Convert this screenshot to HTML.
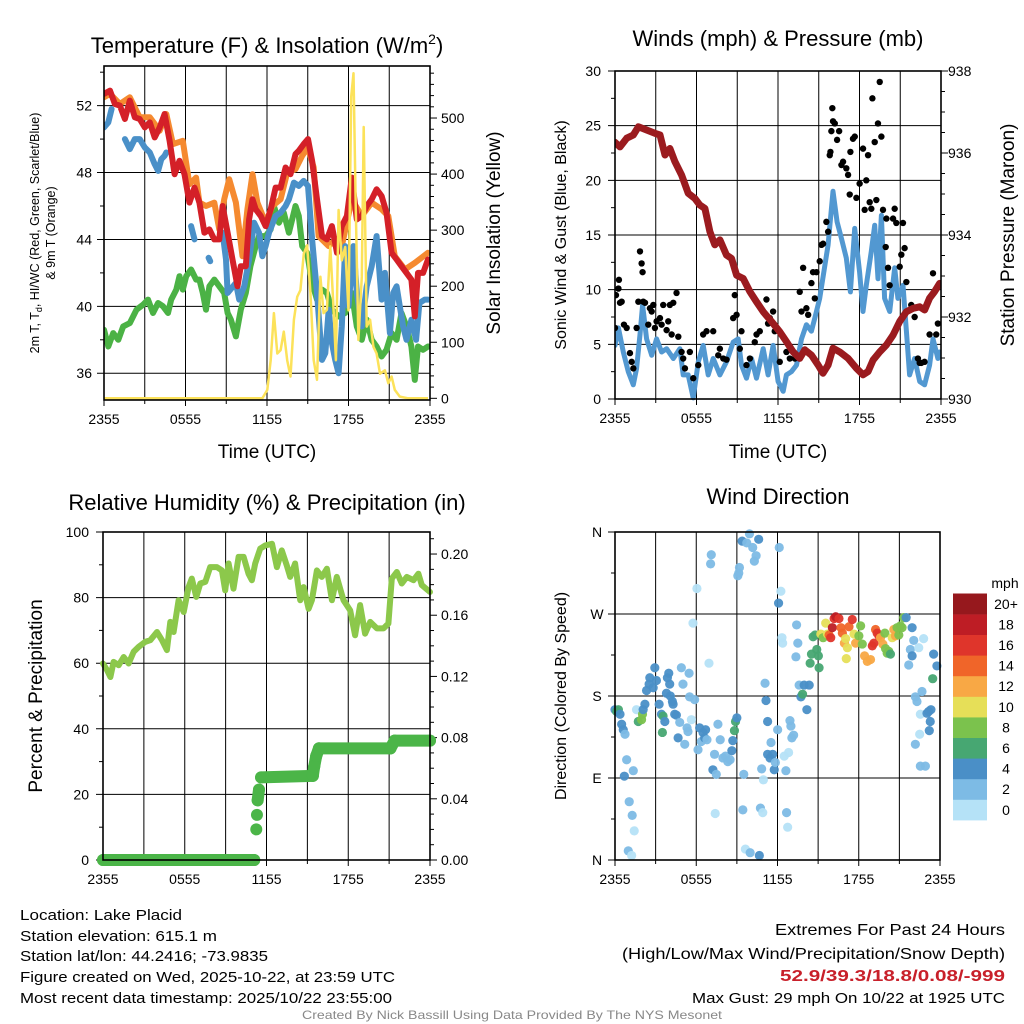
<!DOCTYPE html>
<html><head><meta charset="utf-8"><title>Lake Placid Meteogram</title>
<style>
html,body{margin:0;padding:0;background:#fff;}
svg{display:block;font-family:"Liberation Sans",Arial,sans-serif;}
</style></head>
<body>
<svg id="fig" width="1024" height="1024" viewBox="0 0 1024 1024" xmlns="http://www.w3.org/2000/svg"></svg>
<script>
// ---------------- DATA ----------------
const tRedH=[0,0.44,0.8,1.17,1.54,1.9,2.27,2.63,3.0,3.37,3.73,4.1,4.46,4.83,5.2,5.56,5.93,6.29,6.66,7.02,7.39,7.76,8.12,8.49,8.73,9.1,9.46,9.83,10.07,10.44,10.68,10.93,11.17,11.54,11.9,12.27,12.63,13.0,13.37,13.73,14.1,14.34,14.7,15.02,15.32,15.68,16.05,16.41,16.78,17.15,17.51,17.88,18.24,18.61,18.98,19.34,19.71,20.07,20.44,20.8,21.17,21.54,21.9,22.27,22.63,22.88,23.12,23.49,23.85];
const tRedV=[52.7,52.9,52.1,52.0,51.2,52.3,51.3,51.2,50.7,51.0,50.1,50.7,51.5,49.9,47.9,48.7,47.9,46.2,47.1,46.2,44.4,44.6,44.0,44.0,46.0,44.4,42.8,41.2,42.4,42.4,45.2,46.4,45.8,45.4,44.8,45.8,47.1,47.1,48.3,47.9,49.1,49.3,49.7,50.0,48.7,46.4,44.2,44.0,44.8,43.2,44.8,45.4,47.7,45.2,45.4,46.0,46.4,47.0,46.6,45.6,43.2,42.8,42.4,42.0,41.6,39.4,42.0,42.0,42.8];
const tOrgH=[0,0.44,1.17,1.9,2.63,3.37,4.1,4.59,5.07,5.8,6.29,6.78,7.02,7.51,8.12,8.49,8.85,9.22,9.71,10.2,10.56,10.93,11.29,11.9,12.39,13.0,13.49,14.1,14.59,15.02,15.44,15.8,16.54,17.02,17.51,18.24,18.98,19.71,20.44,20.93,21.41,22.15,22.88,23.85];
const tOrgV=[52.5,52.7,52.1,52.5,51.3,51.3,50.5,51.5,49.7,49.9,47.3,47.7,46.2,46.0,46.2,44.6,46.4,47.6,46.2,43.0,45.8,47.9,46.2,45.0,46.0,46.4,48.0,48.2,49.0,49.5,48.3,44.2,43.6,44.0,43.6,46.4,45.4,46.2,45.8,45.4,43.0,42.2,42.6,43.2];
const tBluH=[0,0.32,0.56,null,1.54,1.9,2.27,2.63,3.0,3.37,3.73,3.98,4.22,4.46,4.59,null,6.41,6.66,null,7.7,7.82,null,8.73,8.98,9.1,9.71,9.95,10.32,10.68,11.05,11.41,11.66,11.9,12.15,12.63,13.0,13.37,13.61,13.98,14.34,14.7,15.02,15.32,15.68,16.05,16.29,16.54,16.78,17.02,17.27,17.51,17.76,18.0,18.37,18.61,18.98,19.34,19.71,20.07,20.44,20.68,21.05,21.29,21.54,21.78,22.02,22.27,22.63,22.98,23.22,23.61,23.85];
const tBluV=[50.7,51.0,51.8,null,50.0,49.4,50.0,50.0,49.5,49.2,48.5,48.1,48.8,49.0,49.2,null,44.8,44.0,null,42.9,42.7,null,44.4,42.8,40.8,41.4,40.4,41.2,42.8,45.0,44.4,43.0,43.6,44.4,45.4,45.6,46.0,46.4,47.4,47.2,47.5,47.2,44.0,40.8,36.8,37.2,39.8,37.8,36.8,36.0,38.8,43.6,40.0,43.6,40.8,38.8,41.2,42.4,44.2,40.4,42.0,38.4,40.8,41.2,40.0,38.8,38.0,39.2,38.0,40.2,40.4,40.4];
const tGrnH=[0,0.32,0.68,1.05,1.41,1.9,2.39,2.88,3.24,3.61,3.98,4.34,4.71,4.95,5.32,5.56,5.8,6.05,6.41,6.78,7.02,7.27,7.51,7.76,8.12,8.49,8.85,9.1,9.34,9.71,10.07,10.44,10.78,11.17,11.41,11.9,12.27,12.51,12.88,13.24,13.61,14.1,14.34,14.59,14.95,15.32,15.68,16.05,16.41,16.78,17.27,17.76,18.24,18.61,18.98,19.34,19.71,20.07,20.44,20.8,21.17,21.54,21.9,22.27,22.63,22.88,23.12,23.49,23.85];
const tGrnV=[38.6,37.6,38.4,38.0,38.8,39.0,39.8,40.1,40.4,39.6,40.2,40.0,39.6,40.4,41.0,41.8,41.0,41.8,42.2,41.6,41.6,40.8,39.8,41.2,41.6,41.2,40.8,39.6,39.2,38.2,39.8,40.8,42.4,43.6,44.2,44.2,44.6,46.0,45.0,45.6,44.4,46.0,45.4,43.6,43.2,41.4,40.4,41.0,40.8,39.8,39.4,39.6,40.8,38.8,38.0,39.2,38.0,37.6,37.0,37.4,38.4,38.0,39.6,38.8,37.6,35.6,37.6,37.4,37.6];
const solH=[0,11.66,12.02,12.27,12.51,12.76,13.0,13.24,13.49,13.73,13.98,14.22,14.46,14.71,14.95,15.2,15.44,15.68,15.93,16.17,16.41,16.66,16.9,17.07,17.27,17.51,17.76,18.0,18.2,18.37,18.54,18.73,18.98,19.12,19.34,19.59,19.83,20.07,20.32,20.68,20.93,21.17,21.41,21.78,22.39,23.85];
const solV=[0,0,15,68,152,80,86,119,68,39,140,181,193,258,273,187,68,33,217,152,158,271,158,68,336,246,270,157,538,580,336,104,217,484,128,140,92,80,44,50,27,39,15,3,0,0];
const wndH=[0,0.25,0.61,0.98,1.35,1.59,1.84,2.03,2.33,2.7,3.06,3.43,3.8,4.29,4.78,5.02,5.39,5.76,6.13,6.49,6.86,7.23,7.72,8.21,8.7,9.07,9.31,9.68,10.05,10.42,10.91,11.27,11.64,12.01,12.38,12.62,12.99,13.36,13.73,14.09,14.46,14.71,15.07,15.37,15.69,16.05,16.35,16.67,17.03,17.33,17.65,18.01,18.26,18.5,18.87,19.12,19.36,19.61,19.85,20.22,20.59,20.83,21.2,21.45,21.69,22.06,22.43,22.79,23.16,23.41,23.77,23.9];
const wndV=[4.9,6.5,4.3,2.5,1.3,2.8,5.9,8.6,5.5,4.0,5.5,4.3,4.6,3.7,4.6,2.2,2.2,0.1,3.4,4.9,2.2,3.7,2.2,3.4,5.2,5.5,3.1,1.9,3.7,1.9,4.6,2.2,4.9,1.6,0.7,2.2,2.5,3.1,5.5,6.8,6.2,7.4,9.2,11.6,14.1,19.0,16.2,14.7,12.9,9.8,15.6,11.6,8.0,10.4,13.5,15.9,11.0,16.8,9.2,8.0,12.0,9.2,10.4,6.2,2.2,3.7,1.6,1.3,3.1,5.5,3.7,4.3];
const gstH=[0,0.07,0.25,0.29,0.37,0.49,0.66,0.86,1.1,1.23,1.35,1.59,1.72,1.84,1.96,2.03,2.08,2.21,2.45,2.57,2.7,2.82,2.94,3.06,3.31,3.43,3.55,3.8,3.92,4.04,4.17,4.29,4.53,4.66,4.9,5.02,5.15,5.51,5.76,6.13,6.49,6.74,7.23,7.6,7.72,7.97,8.21,8.7,8.82,8.95,9.19,9.31,9.68,9.93,10.29,10.42,10.66,11.15,11.27,11.4,11.64,11.76,12.13,12.62,12.87,13.24,13.6,13.73,13.85,14.09,14.22,14.46,14.58,14.71,14.83,15.07,15.2,15.32,15.56,15.69,15.81,15.86,15.93,16.0,16.05,16.18,16.35,16.5,16.67,16.79,17.03,17.16,17.28,17.33,17.52,17.65,17.77,18.01,18.26,18.38,18.5,18.63,18.75,18.87,18.95,19.12,19.24,19.36,19.49,19.61,19.73,19.93,19.98,20.1,20.22,20.47,20.59,20.71,20.96,21.08,21.2,21.32,21.45,21.81,22.06,22.3,22.43,22.55,22.79,23.16,23.41,23.65,23.77];
const gstV=[6.5,9.5,10.1,10.9,8.8,8.9,6.8,6.5,4.2,3.4,2.8,6.5,8.9,13.5,12.4,11.6,8.9,8.8,6.8,8.3,8.0,8.6,6.5,7.1,7.4,6.8,8.6,6.3,7.1,8.6,5.9,8.8,9.7,5.7,4.3,3.7,2.8,4.3,1.9,3.1,5.9,6.2,6.2,4.0,4.6,3.7,3.6,7.4,9.5,7.7,4.6,6.2,3.1,3.7,5.2,5.9,6.2,9.1,6.9,7.4,8.0,6.2,3.4,4.3,3.7,3.7,9.8,8.0,12.0,8.3,7.7,10.6,11.6,9.2,11.6,12.6,14.1,14.2,16.2,15.3,22.3,22.6,24.5,26.6,25.4,25.2,23.7,24.5,21.4,21.7,21.1,20.5,18.7,22.6,23.8,24.0,18.4,19.7,22.9,17.3,20.0,22.3,18.0,17.4,27.5,23.5,18.2,25.2,29.0,24.0,17.3,13.9,16.5,12.0,10.4,16.5,17.4,16.1,12.1,13.2,16.1,13.8,10.7,8.6,7.5,3.7,3.3,3.3,3.4,5.9,11.5,5.9,6.9];
const presH=[0,0.37,0.86,1.35,1.72,2.33,2.94,3.31,3.68,4.04,4.41,4.9,5.39,5.88,6.25,6.62,6.99,7.35,7.72,8.21,8.58,8.95,9.44,9.93,10.42,10.91,11.52,12.13,12.62,13.11,13.6,13.97,14.46,14.95,15.31,15.69,16.05,16.54,17.16,17.77,18.26,18.63,19.0,19.49,19.98,20.47,20.96,21.45,21.94,22.43,22.79,23.16,23.53,23.9];
const presV=[936.26,936.15,936.36,936.44,936.64,936.56,936.48,936.44,935.95,936.11,935.79,935.46,935.02,934.89,934.73,934.65,934.08,933.76,933.88,933.51,933.43,933.02,932.94,932.62,932.37,932.13,931.89,931.64,931.4,931.15,930.99,931.2,931.07,930.83,930.63,930.83,931.24,931.15,930.99,930.75,930.59,930.67,930.95,931.15,931.32,931.56,931.89,932.13,932.21,932.25,932.17,932.46,932.62,932.82];
const rhH=[0,0.29,0.54,0.78,1.15,1.52,1.88,2.25,2.62,3.1,3.47,3.96,4.33,4.69,4.94,5.18,5.55,5.92,6.28,6.52,6.85,7.14,7.51,7.87,8.36,8.73,8.97,9.22,9.58,9.95,10.32,10.68,10.93,11.17,11.54,11.91,12.4,12.76,13.12,13.49,13.74,14.1,14.47,14.72,15.09,15.33,15.7,16.06,16.43,16.8,17.16,17.65,18.14,18.5,18.87,19.24,19.61,20.1,20.59,20.95,21.2,21.56,21.93,22.3,22.79,23.15,23.4,24.0];
const rhV=[59.9,57.9,55.8,60.4,59.4,61.9,59.9,63.5,65.0,66.5,67.0,69.5,67.0,64.0,72.6,69.5,79.2,75.6,83.2,85.8,80.2,84.3,84.8,89.3,89.3,88.3,82.2,90.4,82.7,92.4,92.4,87.3,85.3,90.4,94.9,95.9,96.4,89.3,94.4,89.8,86.3,90.4,79.2,83.2,76.6,79.2,88.3,86.3,88.8,79.2,86.3,79.2,76.1,68.5,77.7,69.0,72.6,70.6,70.6,72.1,85.8,87.8,84.3,86.3,85.3,87.3,83.8,81.7];
const prcH=[0,11.1,11.25,11.3,11.35,11.45,11.6,15.4,15.5,15.65,15.85,21.1,21.4,24];
const prcV=[0,0,0.02,0.0295,0.039,0.046,0.054,0.055,0.061,0.068,0.073,0.073,0.078,0.078];
const dirH=[0,0.12,0.25,0.37,0.49,0.61,0.74,0.86,0.69,1.35,1.05,1.27,1.42,0.98,1.23,1.59,1.72,1.96,2.03,2.08,2.21,2.33,2.52,2.57,2.82,2.94,3.06,3.26,3.43,3.55,3.68,3.5,3.8,3.87,3.97,4.04,4.09,4.24,4.29,4.41,4.53,4.78,4.9,5.02,4.66,5.15,5.32,5.39,5.47,5.51,5.64,5.76,5.88,6.05,6.13,6.25,6.37,6.5,6.62,6.69,6.79,6.94,7.11,7.06,7.23,7.35,7.48,7.4,7.6,7.77,7.97,8.16,8.33,8.5,8.63,8.7,8.82,8.9,9.0,9.07,9.14,9.19,9.39,9.73,9.93,10.17,10.29,10.42,10.61,9.51,9.44,9.63,9.98,10.66,10.74,10.91,10.83,10.96,11.08,11.15,11.27,11.27,11.45,11.52,11.64,11.76,11.84,12.01,12.08,12.13,12.25,12.33,12.38,12.5,12.62,12.67,12.75,12.82,12.92,12.99,13.06,13.19,13.36,13.41,13.5,13.6,13.73,13.85,13.97,14.17,14.34,14.41,14.51,14.63,14.78,14.9,15.02,15.07,15.2,15.37,15.56,15.69,15.81,15.93,16.05,16.18,16.3,16.54,16.69,16.79,16.94,17.03,17.16,17.08,17.28,17.52,17.65,17.77,18.01,18.14,18.26,18.43,18.63,18.87,19.0,19.12,19.24,19.36,19.49,19.61,19.78,19.93,19.98,20.1,20.22,20.34,20.47,20.59,20.71,20.83,20.96,21.08,21.2,21.32,21.5,21.69,21.81,21.94,21.94,22.06,22.18,22.3,22.43,22.55,22.67,22.79,23.04,23.16,23.28,23.21,23.33,23.46,23.53,23.77,22.18,22.5,22.55,22.92];
const dirV=[165,163,165,160,149,143,138,110,92,98,64,49,32,10,5,165,152,154,160,165,171,186,193,200,189,211,197,171,160,158,152,140,183,200,205,193,180,174,171,160,159,151,211,193,134,127,145,141,205,179,154,260,176,298,121,145,130,140,134,143,132,216,335,325,99,116,94,51,149,132,112,114,108,110,120,131,142,152,156,312,315,321,350,348,358,343,328,334,352,94,55,12,8,5,57,52,100,88,194,175,152,116,112,129,116,99,107,143,282,343,295,244,238,114,98,52,36,118,153,147,134,137,223,258,238,192,179,182,192,165,192,216,226,245,247,231,224,211,248,244,260,248,247,244,255,265,267,265,255,249,238,243,233,221,256,264,248,238,246,257,237,224,218,220,235,238,253,249,246,244,237,249,232,227,229,226,244,253,246,255,247,257,255,266,266,214,231,255,224,241,179,174,233,160,185,243,161,163,152,142,165,199,226,213,127,138,103,103];
const dirS=[4,6,6,4,4,4,3,3,4,3,3,3,1,3,1,1,6,8,8,5,4,4,4,4,4,4,4,4,5,6,4,6,4,4,4,4,4,4,4,4,4,3,3,3,4,3,3,3,3,3,1,1,3,1,3,4,3,4,4,4,3,1,3,3,4,3,3,1,3,3,3,3,3,3,4,4,6,6,4,3,3,3,4,3,3,3,3,3,4,3,3,1,3,4,3,1,3,1,3,4,4,4,4,3,4,4,3,3,4,3,1,1,1,1,3,3,1,1,3,3,3,3,3,3,3,3,4,6,4,4,4,6,6,6,6,6,6,6,10,8,10,10,14,16,18,16,18,16,14,14,12,10,10,10,14,16,10,12,8,8,8,12,12,12,16,16,14,16,16,12,12,8,8,8,8,6,10,12,12,8,8,8,8,8,4,3,3,4,4,3,3,3,1,1,3,1,4,4,4,4,4,6,4,4,3,1,3,3];
const cbLabels=["0","2","4","6","8","10","12","14","16","18","20+"];
const cbColors=["#b5e2f7","#7dbbe5","#4a8fc7","#47a772","#7bc24d","#e6df58","#f8a845","#f06529","#df352b","#be1d25","#96181d"];
const timeTicks=["2355","0555","1155","1755","2355"];

// ---------------- HELPERS ----------------
const svg=document.getElementById('fig');
const NS='http://www.w3.org/2000/svg';
function mk(tag,attrs,parent){const e=document.createElementNS(NS,tag);for(const k in attrs)e.setAttribute(k,attrs[k]);(parent||svg).appendChild(e);return e;}
function txt(s,x,y,size,anchor,parent,extra){const e=mk('text',Object.assign({x:x,y:y,'font-size':size,'text-anchor':anchor||'middle',fill:'#000'},extra||{}),parent);e.textContent=s;return e;}
function lin(d0,d1,r0,r1){return v=>r0+(v-d0)/(d1-d0)*(r1-r0);}
function pathFrom(xs,ys,sx,sy){let d='',pen=false;for(let i=0;i<xs.length;i++){if(xs[i]===null||ys[i]===null){pen=false;continue;}d+=(pen?'L':'M')+sx(xs[i]).toFixed(1)+','+sy(ys[i]).toFixed(1);pen=true;}return d;}

function frame(P,g){
  for(let h=0;h<=24;h+=3){const x=P.sx(h);const l=mk('line',{x1:x,y1:P.y0,x2:x,y2:P.y1,stroke:'#000','stroke-width':1},g);}
  timeTicks.forEach((t,i)=>{const x=P.sx(i*6);mk('line',{x1:x,y1:P.y1,x2:x,y2:P.y1+6,stroke:'#000'},g);const e=txt(t,x,P.y1+24,14,'middle',g);});
  for(let h=3;h<24;h+=6){const x=P.sx(h);mk('line',{x1:x,y1:P.y1,x2:x,y2:P.y1+4,stroke:'#000'},g);}
}
function box(P,g){const r=mk('rect',{x:P.x0,y:P.y0,width:P.x1-P.x0,height:P.y1-P.y0,fill:'none',stroke:'#000','stroke-width':1.6},g);}

// ---------------- PANEL 1 ----------------
(function(){
  const g=mk('g',{});
  const P={x0:104,x1:430,y0:66,y1:400};P.sx=lin(0,24,P.x0,P.x1);
  const sy=lin(34.4,54.37,P.y1,P.y0);const sy2=lin(-3,592.8,P.y1,P.y0);
  frame(P,g);
  [36,40,44,48,52].forEach(v=>{const y=sy(v);mk('line',{x1:P.x0-7,y1:y,x2:P.x1,y2:y,stroke:'#000'},g);const e=txt(String(v),P.x0-12,y+5,14,'end',g);});
  [38,42,46,50,54].forEach(v=>{const y=sy(v);mk('line',{x1:P.x0-4,y1:y,x2:P.x0,y2:y,stroke:'#000'},g);});
  for(let v=0;v<=580;v+=20){const y=sy2(v);const major=v%100===0;mk('line',{x1:P.x1,y1:y,x2:P.x1+(major?7:4),y2:y,stroke:'#000'},g);if(major){const e=txt(String(v),P.x1+11,y+5,14,'start',g);}}
  const clip=mk('clipPath',{id:'c1'},g);mk('rect',{x:P.x0,y:P.y0,width:P.x1-P.x0,height:P.y1-P.y0},clip);
  const dg=mk('g',{'clip-path':'url(#c1)'},g);
  let p;
  p=mk('path',{d:pathFrom(tGrnH,tGrnV,P.sx,sy),fill:'none',stroke:'#4bb245','stroke-width':6,'stroke-linejoin':'round','stroke-linecap':'round'},dg);
  p=mk('path',{d:pathFrom(tOrgH,tOrgV,P.sx,sy),fill:'none',stroke:'#f58a30','stroke-width':6,'stroke-linejoin':'round','stroke-linecap':'round'},dg);
  p=mk('path',{d:pathFrom(tBluH,tBluV,P.sx,sy),fill:'none',stroke:'#4a90c8','stroke-width':6,'stroke-linejoin':'round','stroke-linecap':'round'},dg);
  p=mk('path',{d:pathFrom(tRedH,tRedV,P.sx,sy),fill:'none',stroke:'#d42028','stroke-width':6,'stroke-linejoin':'round','stroke-linecap':'round'},dg);
  p=mk('path',{d:pathFrom(solH,solV,P.sx,sy2),fill:'none',stroke:'#fce25a','stroke-width':2.5,'stroke-linejoin':'round'},dg);
  box(P,g);
  const t=mk('text',{x:267,y:53,'font-size':22,'text-anchor':'middle'},g);
  t.innerHTML='Temperature (F) &amp; Insolation (W/m<tspan dy="-9" font-size="14">2</tspan><tspan dy="9">)</tspan>';
  const yl=mk('text',{transform:'translate(39,233) rotate(-90)','font-size':12.5,'text-anchor':'middle'},g);
  yl.innerHTML='2m T, T<tspan dy="3" font-size="9">d</tspan><tspan dy="-3">, HI/WC (Red, Green, Scarlet/Blue)</tspan>';
  const yl2=txt('& 9m T (Orange)',0,0,12.5,'middle',g,{transform:'translate(55,233) rotate(-90)'});
  const yr=txt('Solar Insolation (Yellow)',0,0,19,'middle',g,{transform:'translate(500,233) rotate(-90)'});
  const xl=txt('Time (UTC)',267,458,19,'middle',g);
})();

// ---------------- PANEL 2 ----------------
(function(){
  const g=mk('g',{});
  const P={x0:615,x1:941,y0:71,y1:399};P.sx=lin(0,24,P.x0,P.x1);
  const sy=lin(0,30,P.y1,P.y0);const sy2=lin(930,938,P.y1,P.y0);
  frame(P,g);
  [0,5,10,15,20,25,30].forEach(v=>{const y=sy(v);mk('line',{x1:P.x0-7,y1:y,x2:P.x1,y2:y,stroke:'#000'},g);const e=txt(String(v),P.x0-14,y+5,14,'end',g);});
  [2.5,7.5,12.5,17.5,22.5,27.5].forEach(v=>{const y=sy(v);mk('line',{x1:P.x0-4,y1:y,x2:P.x0,y2:y,stroke:'#000'},g);});
  for(let v=930;v<=938;v+=0.5){const y=sy2(v);const major=v%2===0;mk('line',{x1:P.x1,y1:y,x2:P.x1+(major?7:4),y2:y,stroke:'#000'},g);if(major){const e=txt(String(v),P.x1+7,y+5,14,'start',g);}}
  const clip=mk('clipPath',{id:'c2'},g);mk('rect',{x:P.x0,y:P.y0,width:P.x1-P.x0,height:P.y1-P.y0+4},clip);
  const dg=mk('g',{'clip-path':'url(#c2)'},g);
  let p=mk('path',{d:pathFrom(wndH,wndV,P.sx,sy),fill:'none',stroke:'#5298d1','stroke-width':5,'stroke-linejoin':'round','stroke-linecap':'round'},dg);
  gstH.forEach((h,i)=>{const c=mk('circle',{cx:P.sx(h),cy:sy(gstV[i]),r:3.2,fill:'#000'},dg);
    
    });
  p=mk('path',{d:pathFrom(presH,presV,P.sx,sy2),fill:'none',stroke:'#9b1b1f','stroke-width':7,'stroke-linejoin':'round','stroke-linecap':'round'},dg);
  box(P,g);
  const t=txt('Winds (mph) & Pressure (mb)',778,46,22,'middle',g);
  const yl=txt('Sonic Wind & Gust (Blue, Black)',0,0,16,'middle',g,{transform:'translate(566,235) rotate(-90)'});
  const yr=txt('Station Pressure (Maroon)',0,0,19,'middle',g,{transform:'translate(1014,235) rotate(-90)'});
  const xl=txt('Time (UTC)',778,458,19,'middle',g);
})();

// ---------------- PANEL 3 ----------------
(function(){
  const g=mk('g',{});
  const P={x0:103,x1:430,y0:532,y1:860};P.sx=lin(0,24,P.x0,P.x1);
  const sy=lin(0,100,P.y1,P.y0);const sy2=lin(0,0.2144,P.y1,P.y0);
  frame(P,g);
  [0,20,40,60,80,100].forEach(v=>{const y=sy(v);mk('line',{x1:P.x0-7,y1:y,x2:P.x1,y2:y,stroke:'#000'},g);const e=txt(String(v),P.x0-14,y+5,14,'end',g);});
  [10,30,50,70,90].forEach(v=>{const y=sy(v);mk('line',{x1:P.x0-4,y1:y,x2:P.x0,y2:y,stroke:'#000'},g);});
  for(let i=0;i<=21;i++){const v=i*0.01;const y=sy2(v);const major=i%4===0;mk('line',{x1:P.x1,y1:y,x2:P.x1+(major?7:4),y2:y,stroke:'#000'},g);if(major){const e=txt(v.toFixed(2),P.x1+11,y+5,14,'start',g);}}
  const dg=mk('g',{},g);
  let p=mk('path',{d:pathFrom(rhH,rhV,P.sx,sy),fill:'none',stroke:'#8cc84b','stroke-width':6,'stroke-linejoin':'round','stroke-linecap':'round'},dg);
  for(let i=1;i<prcH.length;i++){if(Math.abs(prcV[i]-prcV[i-1])<0.008){const l=mk('line',{x1:P.sx(prcH[i-1]),y1:sy2(prcV[i-1]),x2:P.sx(prcH[i]),y2:sy2(prcV[i]),stroke:'#4bb548','stroke-width':12,'stroke-linecap':'round'},dg);
    
    }}
  prcH.forEach((h,i)=>{const c=mk('circle',{cx:P.sx(h),cy:sy2(prcV[i]),r:6,fill:'#4bb548'},dg);
    
    });
  box(P,g);
  const t=txt('Relative Humidity (%) & Precipitation (in)',267,510,22,'middle',g);
  const yl=txt('Percent & Precipitation',0,0,19,'middle',g,{transform:'translate(42,696) rotate(-90)'});
})();

// ---------------- PANEL 4 ----------------
(function(){
  const g=mk('g',{});
  const P={x0:615,x1:940,y0:532,y1:860};P.sx=lin(0,24,P.x0,P.x1);
  const sy=lin(0,360,P.y1,P.y0);
  frame(P,g);
  ['N','E','S','W','N'].forEach((s,i)=>{const y=sy(i*90);mk('line',{x1:P.x0-7,y1:y,x2:P.x1,y2:y,stroke:'#000'},g);const e=txt(s,P.x0-18,y+5,14,'middle',g);});
  [45,135,225,315].forEach(v=>{const y=sy(v);mk('line',{x1:P.x0-4,y1:y,x2:P.x0,y2:y,stroke:'#000'},g);});
  const dg=mk('g',{},g);
  dirH.forEach((h,i)=>{const b=Math.min(10,Math.floor(dirS[i]/2));const c=mk('circle',{cx:P.sx(h),cy:sy(dirV[i]),r:4.6,fill:cbColors[b],'fill-opacity':0.95},dg);
    
    });
  box(P,g);
  const t=txt('Wind Direction',778,504,22,'middle',g);
  const yl=txt('Direction (Colored By Speed)',0,0,16,'middle',g,{transform:'translate(566,696) rotate(-90)'});
  const cb=mk('g',{},g);
  const top=593.5,h=20.6;
  cbColors.forEach((c,i)=>{const y=top+(10-i)*h;const r=mk('rect',{x:953,y:y,width:34,height:h+0.3,fill:c},cb);
    
    
    const e=txt(cbLabels[i],1006,y+h/2+5,14,'middle',cb);
    
    });
  const u=txt('mph',1005,588,14,'middle',cb);
})();

// ---------------- FOOTER ----------------
(function(){
  const g=mk('g',{});
  const left=[['Location: Lake Placid',920,162],['Station elevation: 615.1 m',941,197],['Station lat/lon: 44.2416; -73.9835',961,248],['Figure created on Wed, 2025-10-22, at 23:59 UTC',982,375],['Most recent data timestamp: 2025/10/22 23:55:00',1003,372]];
  left.forEach(a=>{const e=txt(a[0],20,a[1],15,'start',g,{textLength:a[2],lengthAdjust:'spacingAndGlyphs'});});
  const r=mk('g',{},svg);
  let e=txt('Extremes For Past 24 Hours',1005,935,16,'end',r,{textLength:230,lengthAdjust:'spacingAndGlyphs'});
  e=txt('(High/Low/Max Wind/Precipitation/Snow Depth)',1005,959,16,'end',r,{textLength:383,lengthAdjust:'spacingAndGlyphs'});
  e=txt('52.9/39.3/18.8/0.08/-999',1005,981,16,'end',r,{fill:'#c8202a','font-weight':'bold',textLength:225,lengthAdjust:'spacingAndGlyphs'});
  e=txt('Max Gust: 29 mph On 10/22 at 1925 UTC',1005,1003,15,'end',r,{textLength:313,lengthAdjust:'spacingAndGlyphs'});
  e=txt('Created By Nick Bassill Using Data Provided By The NYS Mesonet',512,1019,12,'middle',svg,{fill:'#888',textLength:420,lengthAdjust:'spacingAndGlyphs'});
})();
</script>
</body></html>
